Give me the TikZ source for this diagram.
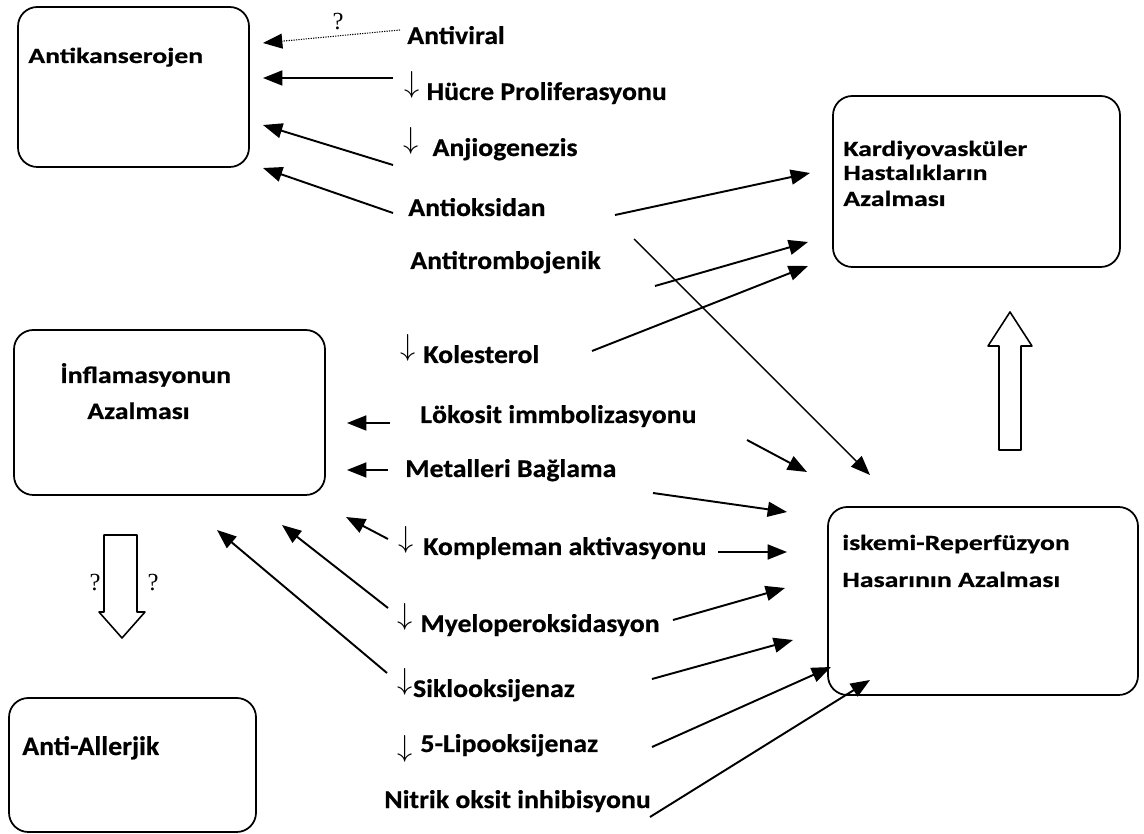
\documentclass[tikz,border=0pt]{standalone}
\usepackage{fontspec}
\setmainfont{Carlito}[FakeStretch=1.09, BoldFeatures={FakeBold=0.6}]
\newfontfamily\qfont{Liberation Serif}
\usetikzlibrary{arrows.meta,fit}
\newcommand\runter[1][4.5pt]{\raisebox{#1}{\scalebox{1.2}{$\downarrow$}}}
\newcommand\flach[2][0.85]{\scalebox{1}[#1]{#2}}

\begin{document}
\begin{tikzpicture}[x=0.02cm, y=-0.02cm]
      \tikzstyle{box}=[draw, line width=1pt, rounded corners=11pt, inner sep=0pt]
      \tikzstyle{lbl}=[anchor=base west, inner sep=0pt, font=\fontsize{14.5}{17}\selectfont\bfseries]
      \tikzstyle{frage}=[inner sep=0pt, font=\fontsize{14}{16}\selectfont\qfont]
      \tikzstyle{pfeil}=[line width=1.1pt, -{Triangle[length=11pt, width=8.5pt]}]
      \tikzstyle{blockpfeil}=[draw, line width=0.9pt, line join=round]

      \useasboundingbox (0,0) rectangle (1144,834);

      % boxes
      \node[box, fit={(18,7) (249,167)}] (kanser) {};
      \node[box, fit={(833,96) (1120,267)}] (kardiyo) {};
      \node[box, fit={(14,330) (325,495)}] (inflam) {};
      \node[box, fit={(828,507) (1138,695)}] (iskemi) {};
      \node[box, fit={(9,698) (256,832)}] (alerji) {};

      \foreach \n/\x/\y/\t in {
        kanserT/28/63/\flach{Antikanserojen},
        kardiyoA/843/156/\flach{Kardiyovasküler},
        kardiyoB/843/180/\flach{Hastalıkların},
        kardiyoC/843/206/\flach{Azalması},
        inflamA/60/383/\flach[0.93]{İnflamasyonun},
        inflamB/87/419/\flach[0.93]{Azalması},
        iskemiA/842/550/\flach{iskemi-Reperfüzyon},
        iskemiB/842/587/\flach{Hasarının Azalması},
        alerjiT/22/755/\flach[1.05]{Anti-Allerjik}}
      {
        \path (\x,\y) node[lbl] (\n) {\t};
      }

      \foreach \n/\x/\y/\t in {
        vir/407/44/Antiviral,
        huc/404/100/{\runter\hspace{4pt}Hücre Proliferasyonu},
        anj/403/156/{\runter\hspace{8pt}Anjiogenezis},
        aox/408/216/Antioksidan,
        atr/410/269/Antitrombojenik,
        kol/400/363/{\runter\hspace{4.5pt}Kolesterol},
        lok/420/423/Lökosit immbolizasyonu,
        met/405/477/Metalleri Bağlama,
        kom/398/555/{\runter\hspace{5.5pt}Kompleman aktivasyonu},
        mye/397/632/{\runter\hspace{4.5pt}Myeloperoksidasyon},
        sik/397/697/{\runter\hspace{0.3pt}Siklooksijenaz},
        lip/397/752/{\runter[-2.8pt]\hspace{4.5pt}5-Lipooksijenaz},
        nit/384/808/Nitrik oksit inhibisyonu}
      {
        \path (\x,\y) node[lbl] (\n) {\t};
      }

      \path (338,22) node[frage] (q1) {?};
      \path (95,583) node[frage] (q2) {?};
      \path (153,583) node[frage] (q3) {?};

      % arrow ends
      \foreach \n/\x/\y in {
        virS/400/30, virE/263/43,
        hucS/393/78, hucE/263/78,
        anjS/393/165, anjE/263/125,
        aoxS/393/213, aoxE/263/168,
        aoxS2/615/215, aoxE2/810/173,
        aoxS3/634/239, aoxE3/870/475,
        atrS/655/286, atrE/808/242,
        kolS/592/351, kolE/808/266,
        lokS/390/423, lokE/347/423,
        lokS2/747/440, lokE2/807/472,
        metS/388/470, metE/347/470,
        metS2/653/493, metE2/787/512,
        komS/388/539, komE/346/517,
        komS2/718/552, komE2/787/552,
        myeS/388/608, myeE/282/525,
        myeS2/673/620, myeE2/785/588,
        sikS/387/673, sikE/217/530,
        sikS2/652/679, sikE2/793/640,
        lipS/652/747, lipE/831/667,
        nitS/650/817, nitE/870/680}
      {
        \coordinate (\n) at (\x,\y);
      }

      \draw[pfeil, line width=0.6pt, dash pattern=on 0.7pt off 0.7pt] (virS) -- (virE);
      \draw[pfeil] (hucS) -- (hucE);
      \draw[pfeil] (anjS) -- (anjE);
      \draw[pfeil] (aoxS) -- (aoxE);
      \draw[pfeil] (aoxS2) -- (aoxE2);
      \draw[pfeil, line width=0.8pt] (aoxS3) -- (aoxE3);
      \draw[pfeil] (atrS) -- (atrE);
      \draw[pfeil] (kolS) -- (kolE);
      \draw[pfeil] (lokS) -- (lokE);
      \draw[pfeil] (lokS2) -- (lokE2);
      \draw[pfeil] (metS) -- (metE);
      \draw[pfeil] (metS2) -- (metE2);
      \draw[pfeil] (komS) -- (komE);
      \draw[pfeil] (komS2) -- (komE2);
      \draw[pfeil] (myeS) -- (myeE);
      \draw[pfeil] (myeS2) -- (myeE2);
      \draw[pfeil] (sikS) -- (sikE);
      \draw[pfeil] (sikS2) -- (sikE2);
      \draw[pfeil] (lipS) -- (lipE);
      \draw[pfeil] (nitS) -- (nitE);

      % block arrows
      \draw[blockpfeil] (104,535) -- (137,535) -- (137,612) -- (145,612)
        -- (122,638) -- (99,612) -- (104,612) -- cycle;
      \draw[blockpfeil] (999,450) -- (1021,450) -- (1021,346) -- (1032,346)
        -- (1010,312) -- (988,346) -- (999,346) -- cycle;
\end{tikzpicture}
\end{document}
